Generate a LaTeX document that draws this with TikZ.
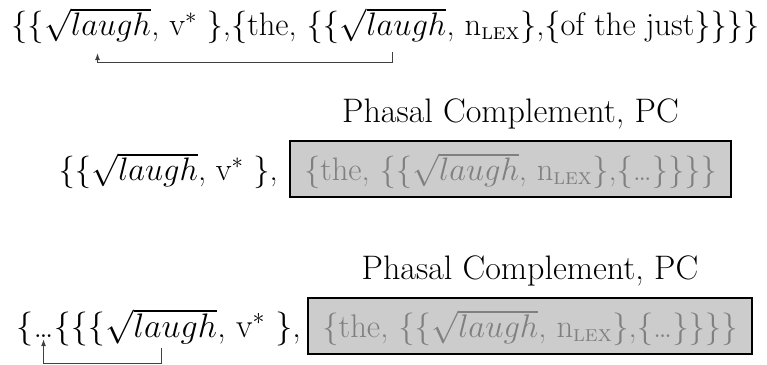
\RequirePackage{fix-cm}
\documentclass[tikz,border=0pt]{standalone}
\usepackage{amsmath}
\usepackage{fontspec}
\usetikzlibrary{positioning,arrows.meta}
\definecolor{boxgray}{gray}{0.8}
\definecolor{textgray}{gray}{0.5}
\newcommand{\lex}{\text{\textsc{lex}}}
\begin{document}
\begin{tikzpicture}[x=1pt, y=1pt, >={Latex[length=7pt,width=5pt]},
  every node/.style={inner sep=0pt, font=\fontsize{32.5}{38}\selectfont},
  big/.style={font=\fontsize{34}{40}\selectfont},
  seg/.style={anchor=base west},
  pcbox/.style={draw=black, line width=1.5pt, fill=boxgray, text=textgray, minimum width=441pt, inner ysep=8pt, text height=31pt, text depth=9pt},
  pclabel/.style={anchor=base, big},
  move/.style={->, line width=1pt, draw=black!75}]
\useasboundingbox (0,0) rectangle (767,-364);
% full structure
\node[seg] (l1a) at (11,-35) {\{\{};
\node[seg] (root1) at (l1a.base east) {$\sqrt{laugh}$};
\node[seg] (l1b) at (root1.base east) {, v$^*$ \},\{the, \{\{};
\node[seg] (root2) at (l1b.base east) {$\sqrt{laugh}$};
\node[seg] (l1c) at (root2.base east) {, n$_{\lex}$\},\{of the just\}\}\}\}};
\draw[move] ([yshift=-10]root2.south) -- ++(0,-10) -| ([yshift=-11]root1.south);
% first phase
\node[pcbox] (box2) at (510.5,-169) {\{the, \{\{$\sqrt{laugh}$, n$_{\lex}$\},\{\dots\}\}\}\}};
\node[pclabel] (pc2) at ([yshift=18]box2.north) {Phasal Complement, PC};
\node[anchor=base east] (pre2) at (278,-180) {\{\{$\sqrt{laugh}$, v$^*$ \},};
% second phase
\node[pcbox, minimum width=444pt, font=\fontsize{32.7}{38}\selectfont] (box3) at (530,-326) {\{the, \{\{$\sqrt{laugh}$, n$_{\lex}$\},\{\dots\}\}\}\}};
\node[pclabel] (pc3) at ([yshift=18]box3.north) {Phasal Complement, PC};
\node[seg, big] (l3a) at (16,-337) {\{};
\node[seg, big] (dots3) at (l3a.base east) {\dots};
\node[seg, big] (l3b) at (dots3.base east) {\{\{\{};
\node[seg, big] (root3) at (l3b.base east) {$\sqrt{laugh}$};
\node[seg, big] (l3c) at (root3.base east) {, v$^*$ \},};
\draw[move] ([yshift=-4]root3.south) -- ++(0,-15) -| ([yshift=-2]dots3.south);
\end{tikzpicture}
\end{document}
